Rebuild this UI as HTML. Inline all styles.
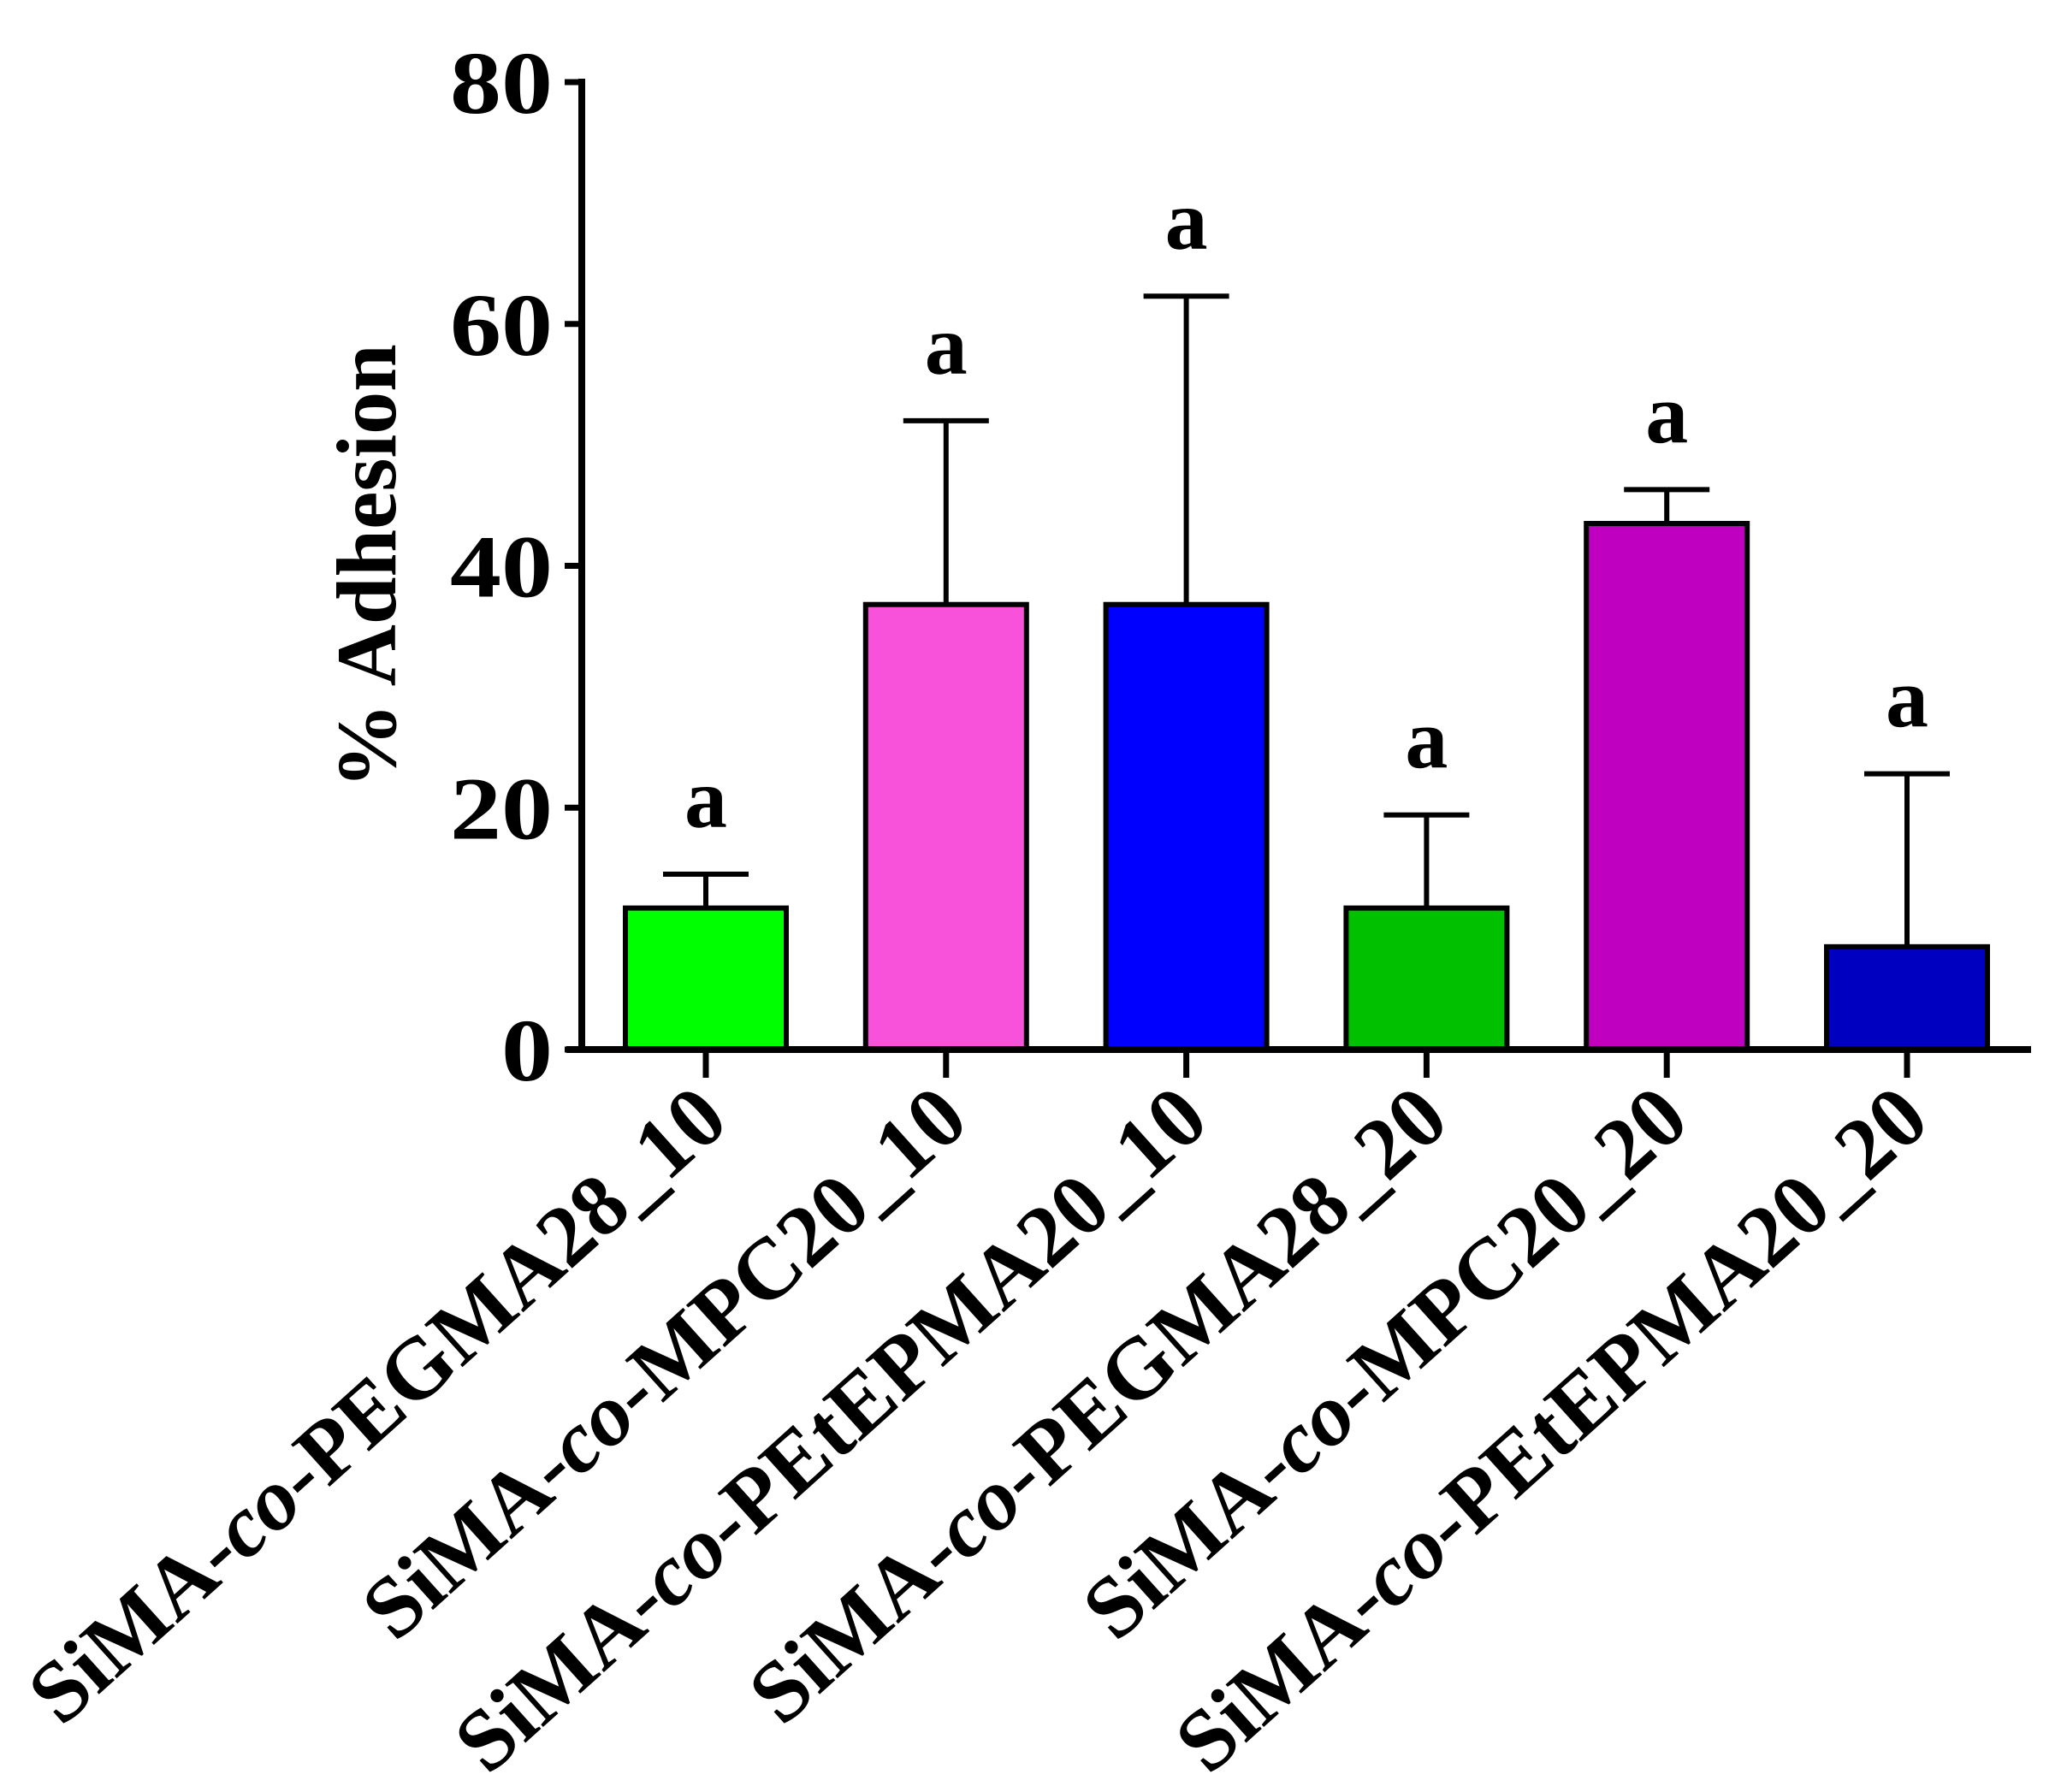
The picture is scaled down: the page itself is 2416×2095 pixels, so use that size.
<!DOCTYPE html>
<html><head><meta charset="utf-8"><style>
html,body{margin:0;padding:0;background:#fff;}
svg{display:block;}
text{font-family:"Liberation Serif",serif;font-weight:bold;fill:#000;}
</style></head><body>
<svg id="chart" width="2416" height="2095" viewBox="0 0 2416 2095" xmlns="http://www.w3.org/2000/svg"></svg>
<script>
const categories = ["SiMA-co-PEGMA28_10","SiMA-co-MPC20_10","SiMA-co-PEtEPMA20_10","SiMA-co-PEGMA28_20","SiMA-co-MPC20_20","SiMA-co-PEtEPMA20_20"];
const values = [11.7, 36.8, 36.8, 11.7, 43.5, 8.5];
const errors = [2.8, 15.2, 25.5, 7.7, 2.8, 14.3];
const letters = ["a","a","a","a","a","a"];
const colors = ["#00ff00","#f752d9","#0000ff","#00c000","#c000c0","#0000c0"];
const yTicks = [0, 20, 40, 60, 80];

const NS = "http://www.w3.org/2000/svg";
const svg = document.getElementById("chart");
const axisX = 680, y0 = 1227, yTop = 96;
const yScale = v => y0 - (v / 80) * (y0 - yTop);
const xScale = i => 825 + i * 280.8;
const barW = 188, capHalf = 50;

function mk(tag, attrs, parent) {
  const e = document.createElementNS(NS, tag);
  for (const k in attrs) e.setAttribute(k, attrs[k]);
  (parent || svg).appendChild(e);
  return e;
}

categories.forEach((c, i) => {
  const cx = xScale(i);
  const top = yScale(values[i]);
  const errTop = yScale(values[i] + errors[i]);
  const eb = mk("line", {x1: cx, x2: cx, y1: top, y2: errTop, stroke: "#000", "stroke-width": 6});
  
  
  const cap = mk("line", {x1: cx - capHalf, x2: cx + capHalf, y1: errTop, y2: errTop, stroke: "#000", "stroke-width": 6});
  
  
  const r = mk("rect", {x: cx - barW / 2, y: top, width: barW, height: y0 - top, fill: colors[i], stroke: "#000", "stroke-width": 6});
  
  
  const t = mk("text", {x: cx, y: errTop - 55, "font-size": 100, "text-anchor": "middle"});
  t.textContent = letters[i];
  
  
  const tk = mk("line", {x1: cx, x2: cx, y1: y0, y2: y0 + 33, stroke: "#000", "stroke-width": 7});
  
  
  const lx = cx + 30, ly = y0 + 88;
  const lab = mk("text", {x: lx, y: ly, "font-size": 102, "text-anchor": "end", transform: `rotate(-42 ${lx} ${ly})`});
  const parts = c.split("-co-");
  lab.appendChild(document.createTextNode(parts[0] + "-"));
  const it = mk("tspan", {style: "font-style:italic"}, lab);
  it.textContent = "co";
  lab.appendChild(document.createTextNode("-" + parts[1]));
  
  
});

const xa = mk("line", {x1: 662, x2: 2374, y1: y0, y2: y0, stroke: "#000", "stroke-width": 8});


const ya = mk("line", {x1: axisX, x2: axisX, y1: yTop - 4, y2: y0 + 4, stroke: "#000", "stroke-width": 8});


yTicks.forEach(v => {
  const y = yScale(v);
  const tk = mk("line", {x1: axisX - 20, x2: axisX, y1: y, y2: y, stroke: "#000", "stroke-width": 7});
  
  
  const s = String(v);
  const t = mk("text", {x: axisX - 34, y: y + 36, "font-size": 104, "text-anchor": "end", textLength: 60 * s.length, lengthAdjust: "spacingAndGlyphs"});
  t.textContent = s;
  
  
});
const yl = mk("text", {x: 462, y: 662, "font-size": 100, "text-anchor": "middle", transform: "rotate(-90 462 662)"});
yl.textContent = "% Adhesion";


</script>
</body></html>
